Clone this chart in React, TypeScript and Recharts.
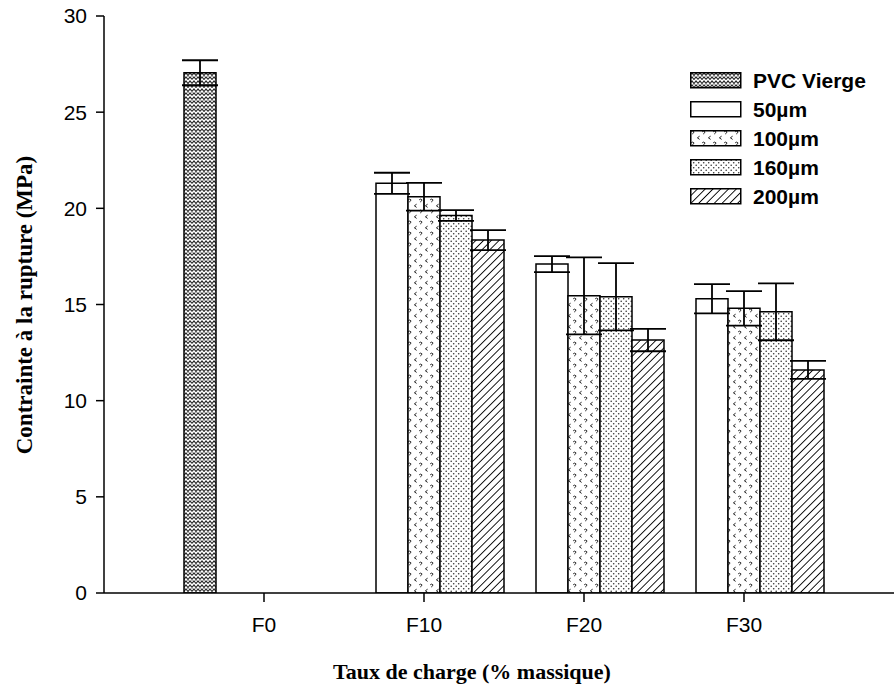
import React from 'react';
import { BarChart, Bar, XAxis, YAxis, ErrorBar } from 'recharts';

const categories = ['F0', 'F10', 'F20', 'F30'];
const seriesNames = ['PVC Vierge', '50µm', '100µm', '160µm', '200µm'];
const pvcValues = [27.05, null, null, null];
const pvcErrors = [0.65, null, null, null];
const s50Values = [null, 21.3, 17.1, 15.3];
const s50Errors = [null, 0.55, 0.42, 0.76];
const s100Values = [null, 20.6, 15.45, 14.8];
const s100Errors = [null, 0.72, 2.0, 0.9];
const s160Values = [null, 19.63, 15.4, 14.62];
const s160Errors = [null, 0.28, 1.75, 1.48];
const s200Values = [null, 18.35, 13.15, 11.6];
const s200Errors = [null, 0.52, 0.58, 0.47];
const yTicks = [0, 5, 10, 15, 20, 25, 30];

const keys = ['pvc', 's50', 's100', 's160', 's200'];
const valueArrays = [pvcValues, s50Values, s100Values, s160Values, s200Values];
const errorArrays = [pvcErrors, s50Errors, s100Errors, s160Errors, s200Errors];
const fills = ['url(#patPVC)', '#ffffff', 'url(#pat100)', 'url(#pat160)', 'url(#pat200)'];

const data = categories.map((c, i) => {
  const row: any = { cat: c };
  keys.forEach((k, j) => {
    row[k] = valueArrays[j][i];
    row[k + 'Err'] = errorArrays[j][i];
  });
  return row;
});

const SANS = '"Liberation Sans", Arial, sans-serif';
const SERIF = '"Liberation Serif", "Times New Roman", serif';

const Patterns = () => (
  <defs>
    <pattern id="patPVC" width="8" height="8" patternUnits="userSpaceOnUse">
      <rect width="8" height="8" fill="#fff" />
      <path d="M0,3.5 L2,1 L4,3.5 L6,1 L8,3.5" stroke="#222" strokeWidth="1.1" fill="none" />
      <path d="M0,7.5 L2,5 L4,7.5 L6,5 L8,7.5" stroke="#222" strokeWidth="1.1" fill="none" />
      <path d="M4,3.5 L4,5 M0,3.5 L0,5 M8,3.5 L8,5" stroke="#666" strokeWidth="0.9" fill="none" />
    </pattern>
    <pattern id="pat100" width="11" height="11" patternUnits="userSpaceOnUse">
      <rect width="11" height="11" fill="#fff" />
      <path d="M1.2,1.8 Q2.8,0.4 3.9,1.8 Q4,3 2.6,3.6 L2.6,4.2" stroke="#222" strokeWidth="1" fill="none" />
      <path d="M9.6,6.2 L7.4,7.8 L9.6,9.4" stroke="#222" strokeWidth="1" fill="none" />
    </pattern>
    <pattern id="pat160" width="5" height="5" patternUnits="userSpaceOnUse">
      <rect width="5" height="5" fill="#fff" />
      <circle cx="1.2" cy="1.2" r="0.8" fill="#333" />
      <circle cx="3.7" cy="3.7" r="0.8" fill="#333" />
    </pattern>
    <pattern id="pat200" width="5.5" height="5.5" patternUnits="userSpaceOnUse" patternTransform="rotate(45)">
      <rect width="5.5" height="5.5" fill="#fff" />
      <line x1="0" y1="0" x2="0" y2="5.5" stroke="#000" strokeWidth="1.8" />
    </pattern>
  </defs>
);

const LegendBox = () => (
  <div
    style={{
      position: 'absolute',
      left: 690,
      top: 66,
      fontFamily: SANS,
      fontWeight: 'bold',
      fontSize: 21,
      color: '#000',
    }}
  >
    {seriesNames.map((name, i) => (
      <div key={name} style={{ display: 'flex', alignItems: 'center', height: 29 }}>
        <svg width={52} height={17} style={{ display: 'block' }}>
          <rect x={0.75} y={0.75} width={50} height={15} fill={fills[i]} stroke="#000" strokeWidth={1.5} />
        </svg>
        <span style={{ marginLeft: 11, lineHeight: '29px', whiteSpace: 'nowrap' }}>{name}</span>
      </div>
    ))}
  </div>
);

const YTitle = () => (
  <text
    x={32}
    y={305}
    transform="rotate(-90, 32, 305)"
    textAnchor="middle"
    style={{ fontFamily: SERIF, fontWeight: 'bold', fontSize: 23, fill: '#000' }}
  >
    Contrainte à la rupture (MPa)
  </text>
);

const XTitle = () => (
  <text
    x={472}
    y={679}
    textAnchor="middle"
    style={{ fontFamily: SERIF, fontWeight: 'bold', fontSize: 22, fill: '#000' }}
  >
    Taux de charge (% massique)
  </text>
);

export default function App() {
  return (
    <div style={{ position: 'fixed', left: 0, top: 0, width: 894, height: 692, overflow: 'hidden', background: '#fff' }}>
      <BarChart
        width={910}
        height={692}
        data={data}
        margin={{ top: 16, right: 6, bottom: 0, left: 0 }}
        barGap={0}
        barCategoryGap={0}
      >
        <Patterns />
        <XAxis
          dataKey="cat"
          type="category"
          height={99}
          padding={{ left: 80, right: 80 }}
          axisLine={{ stroke: '#000', strokeWidth: 1.5 }}
          tickLine={{ stroke: '#000', strokeWidth: 1.5 }}
          tickSize={9}
          tickMargin={15}
          tick={{ fill: '#000', fontFamily: SANS, fontSize: 21 }}
          interval={0}
          label={() => <XTitle />}
        />
        <YAxis
          width={104}
          domain={[0, 30]}
          ticks={yTicks}
          allowDataOverflow
          axisLine={{ stroke: '#000', strokeWidth: 1.5 }}
          tickLine={{ stroke: '#000', strokeWidth: 1.5 }}
          tickSize={8}
          tickMargin={9}
          tick={{ fill: '#000', fontFamily: SANS, fontSize: 21 }}
          label={() => <YTitle />}
        />
        {keys.map((k, j) => (
          <Bar
            key={k}
            dataKey={k}
            name={seriesNames[j]}
            fill={fills[j]}
            stroke="#000"
            strokeWidth={1.5}
            isAnimationActive={false}
          >
            <ErrorBar dataKey={k + 'Err'} width={18} stroke="#000" strokeWidth={1.8} direction="y" />
          </Bar>
        ))}
      </BarChart>
      <LegendBox />
    </div>
  );
}
